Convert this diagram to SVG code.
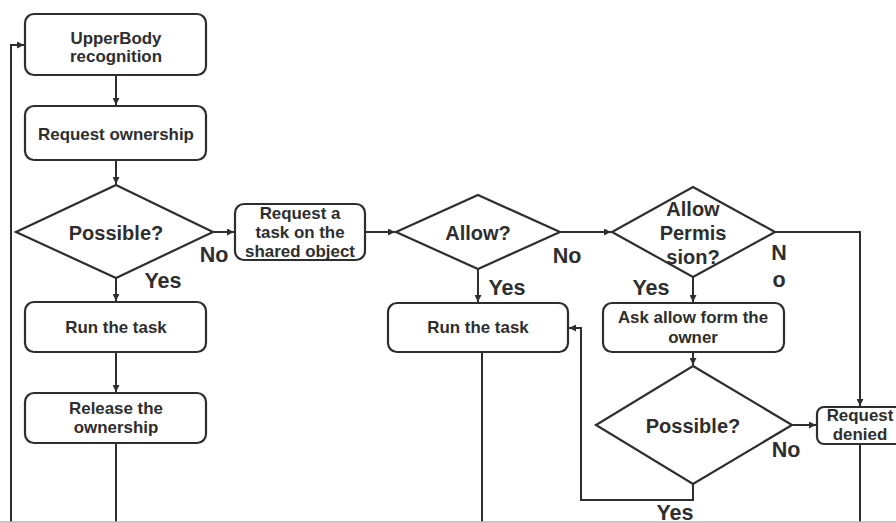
<svg xmlns="http://www.w3.org/2000/svg" width="896" height="523" viewBox="0 0 896 523">
  <defs>
    <marker id="arrow" markerUnits="userSpaceOnUse" markerWidth="8" markerHeight="7" refX="7" refY="3.5" orient="auto">
      <path d="M0,0 L7,3.5 L0,7 z" fill="#2e2e2e"/>
    </marker>
  </defs>
  <style>
    .box { fill: #fff; stroke: #2e2e2e; stroke-width: 2.2; }
    .dec { fill: #fff; stroke: #2e2e2e; stroke-width: 2.2; stroke-linejoin: miter; }
    .edge { fill: none; stroke: #2e2e2e; stroke-width: 2; }
    .arr { marker-end: url(#arrow); }
    text { font-family: "Liberation Sans", Arial, sans-serif; font-weight: bold; fill: #2e2e2e; text-anchor: middle; }
    .t { font-size: 16.9px; }
    .q { font-size: 20px; }
    .lbl { font-size: 21.5px; }
  </style>
  <rect width="896" height="523" fill="#fff"/>

  <!-- connectors -->
  <g id="connectors">
    <path class="edge arr" d="M11,522 V45 H24"/>
    <path class="edge arr" d="M116,75 V105"/>
    <path class="edge arr" d="M116,160 V184"/>
    <path class="edge arr" d="M116,278 V301"/>
    <path class="edge arr" d="M116,352 V392"/>
    <path class="edge" d="M116,443 V522"/>
    <path class="edge arr" d="M213,232 H234"/>
    <path class="edge arr" d="M365,232 H395"/>
    <path class="edge arr" d="M478,269 V302"/>
    <path class="edge" d="M482,352 V522"/>
    <path class="edge arr" d="M560,232 H611"/>
    <path class="edge arr" d="M775,232 H860 V406"/>
    <path class="edge arr" d="M693,277 V302"/>
    <path class="edge arr" d="M693,352 V365"/>
    <path class="edge arr" d="M792,425 H816"/>
    <path class="edge arr" d="M693,484 V500 H581 V328 H569"/>
    <path class="edge" d="M860,444 V522"/>
    <line x1="0" y1="522" x2="896" y2="522" stroke="#b4b4b4" stroke-width="1.5"/>
  </g>

  <!-- edge labels -->
  <g id="labels">
    <text class="lbl" x="214" y="262">No</text>
    <text class="lbl" x="163" y="288">Yes</text>
    <text class="lbl" x="567" y="263">No</text>
    <text class="lbl" x="507" y="295">Yes</text>
    <text class="lbl" x="779" y="260">N</text>
    <text class="lbl" x="779" y="287">o</text>
    <text class="lbl" x="651" y="295">Yes</text>
    <text class="lbl" x="786" y="457">No</text>
    <text class="lbl" x="675" y="520">Yes</text>
  </g>

  <g id="upperbody">
    <rect class="box" x="25" y="14" width="181" height="61" rx="9"/>
    <text class="t" x="116" y="44">UpperBody</text>
    <text class="t" x="116" y="62">recognition</text>
  </g>

  <g id="request-ownership">
    <rect class="box" x="25" y="106" width="181" height="54" rx="9"/>
    <text class="t" x="116" y="140">Request ownership</text>
  </g>

  <g id="possible-1">
    <polygon class="dec" points="116,185 213,232 116,278 16,232"/>
    <text class="q" x="116" y="240">Possible?</text>
  </g>

  <g id="run-task-1">
    <rect class="box" x="25" y="302" width="181" height="50" rx="9"/>
    <text class="t" x="116" y="333">Run the task</text>
  </g>

  <g id="release">
    <rect class="box" x="25" y="393" width="181" height="50" rx="9"/>
    <text class="t" x="116" y="414">Release the</text>
    <text class="t" x="116" y="433">ownership</text>
  </g>

  <g id="request-task">
    <rect class="box" x="235" y="204" width="130" height="56" rx="9"/>
    <text class="t" x="300" y="219">Request a</text>
    <text class="t" x="300" y="238">task on the</text>
    <text class="t" x="300" y="257">shared object</text>
  </g>

  <g id="allow">
    <polygon class="dec" points="478,195 560,232 478,269 396,232"/>
    <text class="q" x="478" y="240">Allow?</text>
  </g>

  <g id="run-task-2">
    <rect class="box" x="388" y="303" width="180" height="49" rx="9"/>
    <text class="t" x="478" y="333">Run the task</text>
  </g>

  <g id="allow-permission">
    <polygon class="dec" points="693,187 775,232 693,277 612,232"/>
    <text class="q" x="693" y="216">Allow</text>
    <text class="q" x="693" y="240">Permis</text>
    <text class="q" x="693" y="264">sion?</text>
  </g>

  <g id="ask-owner">
    <rect class="box" x="603" y="303" width="181" height="49" rx="9"/>
    <text class="t" x="693" y="323">Ask allow form the</text>
    <text class="t" x="693" y="343">owner</text>
  </g>

  <g id="possible-2">
    <polygon class="dec" points="693,366 792,425 693,484 596,425"/>
    <text class="q" x="693" y="433">Possible?</text>
  </g>

  <g id="request-denied">
    <rect class="box" x="817" y="407" width="90" height="37" rx="7"/>
    <text class="t" x="860" y="421">Request</text>
    <text class="t" x="860" y="440">denied</text>
  </g>
</svg>
